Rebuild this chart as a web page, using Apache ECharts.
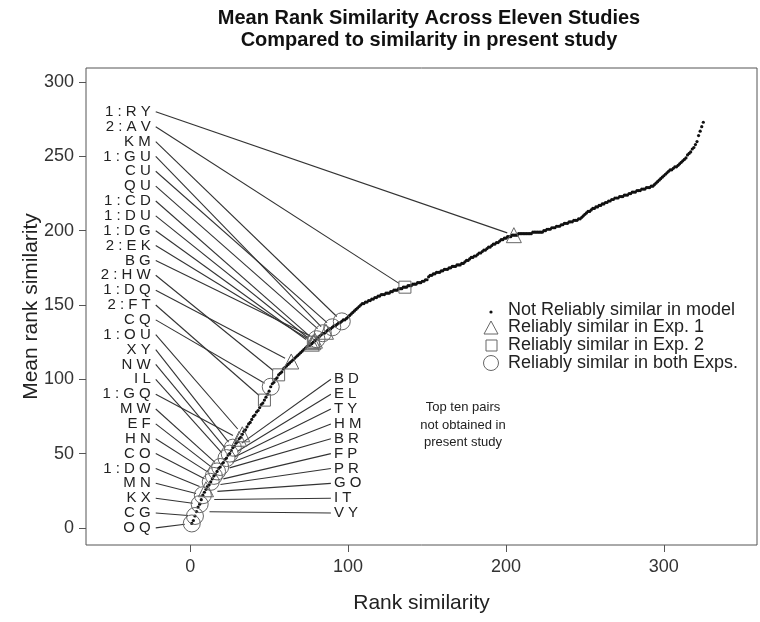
<!DOCTYPE html>
<html><head><meta charset="utf-8">
<script src="https://cdn.jsdelivr.net/npm/echarts@6/dist/echarts.min.js"></script>
<style>html,body{margin:0;padding:0;background:#fff}#c{width:760px;height:622px}</style>
</head><body><div id="c"></div>
<script>
// Mean rank similarity (y) for each of the 325 pairs, ordered by rank similarity in present study (x = 1..325)
const meanRank = [
3,5,8,11,14,16,19,22,24,26,
28,29,31,33,35,36,38,40,41,43,
44,46,47,49,50,52,54,55,57,58,
60,61,63,65,66,68,70,71,73,75,
76,78,79,81,83,84,86,88,90,92,
95,97,98,100,101,103,104,105,107,108,
109,110,111,112,113,114,115,116,117,118,
119,120,121,122,123,123,124,125,126,127,
128,129,130,131,131,132,133,134,134,135,
136,136,137,138,138,139,140,140,141,142,
143,144,145,146,147,148,149,150,151,151,
152,152,153,153,154,154,155,155,156,156,
157,157,157,158,158,158,159,159,160,160,
160,161,161,161,162,162,162,163,163,163,
164,164,164,165,165,165,166,166,167,167,
169,170,170,171,171,172,172,172,173,173,
174,174,174,175,175,176,176,176,177,177,
177,178,178,179,180,180,181,182,182,183,
183,184,185,185,186,187,187,188,189,189,
190,191,191,192,192,193,194,194,195,195,
196,196,196,197,197,197,197,198,198,198,
198,198,198,198,198,198,199,199,199,199,
199,199,199,200,200,201,201,201,202,202,
202,203,203,203,204,204,205,205,205,206,
206,206,207,207,207,208,208,209,210,211,
212,213,213,214,215,215,216,216,217,217,
218,218,219,219,220,220,221,221,222,222,
222,223,223,223,224,224,224,225,225,226,
226,226,227,227,227,228,228,228,229,229,
229,230,230,231,232,233,234,235,236,237,
238,239,240,241,241,242,243,243,244,245,
246,247,248,249,251,252,253,255,256,258,
260,264,267,270,273
];
const xTicks = [0, 100, 200, 300];
const yTicks = [0, 50, 100, 150, 200, 250, 300];

// Labelled pairs (prefix 1 = reliably similar in Exp. 1, 2 = in Exp. 2, none = both)
const leftLabels = ['1 : R Y','2 : A V','K M','1 : G U','C U','Q U','1 : C D','1 : D U','1 : D G','2 : E K','B G','2 : H W','1 : D Q','2 : F T','C Q','1 : O U','X Y','N W','I L','1 : G Q','M W','E F','H N','C O','1 : D O','M N','K X','C G','O Q'];
const leftRanks  = [205,136,96,86,90,84,79,78,77,78,80,56,64,47,51,33,27,25,23,31,19,17,15,13,10,8,6,3,1];
// Top ten pairs not obtained in present study
const rightLabels = ['B D','E L','T Y','H M','B R','F P','P R','G O','I T','V Y'];
const rightRanks  = [26,23,21,19,17,13,11,9,7,4];

const legendNames = ['Not Reliably similar in model','Reliably similar in Exp. 1','Reliably similar in Exp. 2','Reliably similar in both Exps.'];
const noteText = 'Top ten pairs\nnot obtained in\npresent study';

const FONT = '"Liberation Sans", Arial, Helvetica, sans-serif';
const curveData = meanRank.map((v, i) => [i + 1, v]);
const triData = [], sqData = [], circData = [];
leftLabels.forEach((l, i) => {
  const r = leftRanks[i];
  const p = [r, meanRank[r - 1]];
  if (l.charAt(0) === '1') triData.push(p);
  else if (l.charAt(0) === '2') sqData.push(p);
  else circData.push(p);
});
const leaderData = [];
leftLabels.forEach((l, i) => { const r = leftRanks[i]; leaderData.push([-25, 280 - 10 * i, r, meanRank[r - 1], -1]); });
rightLabels.forEach((l, i) => { const r = rightRanks[i]; leaderData.push([91, 100 - 10 * i, r, meanRank[r - 1], 1]); });
const allLabels = leftLabels.concat(rightLabels);

const chart = echarts.init(document.getElementById('c'), null, {renderer: 'canvas'});
const gray = '#555';
const option = {
  animation: false,
  backgroundColor: '#fff',
  title: {
    text: 'Mean Rank Similarity Across Eleven Studies\nCompared to similarity in present study',
    left: 424, top: 2, textAlign: 'center',
    textStyle: {fontFamily: FONT, fontWeight: 'bold', fontSize: 20, lineHeight: 22, color: '#111'}
  },
  grid: {left: 86, right: 3, top: 68, bottom: 77, show: true, borderColor: gray, borderWidth: 1, backgroundColor: 'transparent'},
  xAxis: {
    type: 'value', min: -66, max: 359,
    name: 'Rank similarity', nameLocation: 'middle', nameGap: 48, nameMoveOverlap: false,
    nameTextStyle: {fontFamily: FONT, fontSize: 21, color: '#222'},
    axisLine: {show: false, onZero: false}, splitLine: {show: false},
    axisTick: {show: true, inside: false, length: 7, lineStyle: {color: gray}, customValues: xTicks},
    axisLabel: {fontFamily: FONT, fontSize: 18, color: '#333', margin: 13, customValues: xTicks}
  },
  yAxis: {
    type: 'value', min: -11.5, max: 309.5,
    name: 'Mean rank similarity', nameLocation: 'middle', nameGap: 44, nameMoveOverlap: false,
    nameTextStyle: {fontFamily: FONT, fontSize: 21, color: '#222'},
    axisLine: {show: false, onZero: false}, splitLine: {show: false},
    axisTick: {show: true, inside: false, length: 7, lineStyle: {color: gray}, customValues: yTicks},
    axisLabel: {fontFamily: FONT, fontSize: 18, color: '#333', margin: 12, customValues: yTicks}
  },
  series: [
    {
      type: 'custom', z: 1, silent: true,
      data: leaderData,
      encode: {x: [0, 2], y: [1, 3]},
      renderItem: function (params, api) {
        const side = api.value(4);
        const a = api.coord([api.value(0), api.value(1)]);
        const b = api.coord([api.value(2), api.value(3)]);
        const sx = side < 0 ? a[0] + 5 : a[0] - 3;
        const sy = a[1];
        const shorten = side < 0 ? 7 : 13;
        const dx = b[0] - sx, dy = b[1] - sy, len = Math.hypot(dx, dy);
        const ex = b[0] - dx / len * shorten, ey = b[1] - dy / len * shorten;
        return {type: 'group', children: [
          {type: 'line', shape: {x1: sx, y1: sy, x2: ex, y2: ey}, style: {stroke: '#333', lineWidth: 1.1}},
          {type: 'text', style: {x: a[0], y: a[1], text: allLabels[params.dataIndex], align: side < 0 ? 'right' : 'left', verticalAlign: 'middle', fontSize: 15, fontFamily: FONT, fill: '#222'}}
        ]};
      }
    },
    {type: 'scatter', z: 2, silent: true, data: curveData, symbol: 'circle', symbolSize: 3.2, itemStyle: {color: '#111', opacity: 1}},
    {type: 'scatter', z: 3, silent: true, data: triData, symbol: 'triangle', symbolSize: 15, itemStyle: {color: 'rgba(0,0,0,0)', borderColor: '#666', borderWidth: 1, opacity: 1}},
    {type: 'scatter', z: 3, silent: true, data: sqData, symbol: 'rect', symbolSize: 12, itemStyle: {color: 'rgba(0,0,0,0)', borderColor: '#666', borderWidth: 1, opacity: 1}},
    {type: 'scatter', z: 3, silent: true, data: circData, symbol: 'circle', symbolSize: 17, itemStyle: {color: 'rgba(0,0,0,0)', borderColor: '#666', borderWidth: 1, opacity: 1}}
  ],
  graphic: [
    {type: 'circle', shape: {cx: 491, cy: 312, r: 1.6}, style: {fill: '#111'}},
    {type: 'polygon', shape: {points: [[484, 334], [498, 334], [491, 321]]}, style: {fill: 'none', stroke: '#666', lineWidth: 1}},
    {type: 'rect', shape: {x: 486, y: 340, width: 11, height: 11}, style: {fill: 'none', stroke: '#666', lineWidth: 1}},
    {type: 'circle', shape: {cx: 491, cy: 363, r: 7.5}, style: {fill: 'none', stroke: '#666', lineWidth: 1}},
    {type: 'text', x: 508, y: 310, style: {text: legendNames[0], fontSize: 18, fontFamily: FONT, fill: '#222', verticalAlign: 'middle'}},
    {type: 'text', x: 508, y: 327.5, style: {text: legendNames[1], fontSize: 18, fontFamily: FONT, fill: '#222', verticalAlign: 'middle'}},
    {type: 'text', x: 508, y: 345, style: {text: legendNames[2], fontSize: 18, fontFamily: FONT, fill: '#222', verticalAlign: 'middle'}},
    {type: 'text', x: 508, y: 363, style: {text: legendNames[3], fontSize: 18, fontFamily: FONT, fill: '#222', verticalAlign: 'middle'}},
    {type: 'text', x: 463, y: 399, style: {text: noteText, fontSize: 13, lineHeight: 17.5, fontFamily: FONT, fill: '#222', align: 'center', verticalAlign: 'top'}}
  ]
};
chart.setOption(option);
</script>
</body></html>
